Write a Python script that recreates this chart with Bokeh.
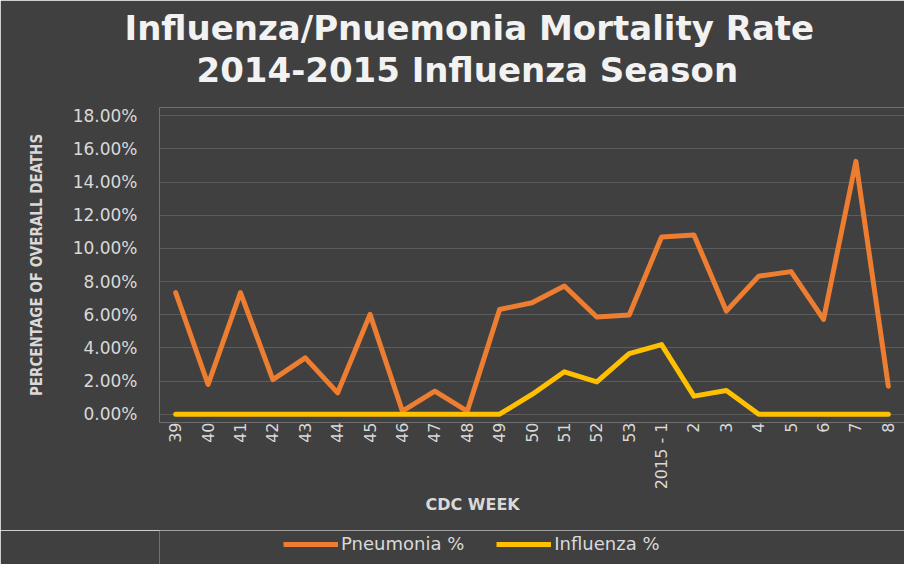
from math import pi
from bokeh.plotting import figure
from bokeh.layouts import column
from bokeh.models import (FactorRange, Range1d, FixedTicker, Title, Legend, LegendItem,
                          CustomJSTickFormatter)
from bokeh.embed import file_html
from bokeh.resources import INLINE

weeks = ["39", "40", "41", "42", "43", "44", "45", "46", "47", "48", "49", "50", "51",
         "52", "53", "2015 - 1", "2", "3", "4", "5", "6", "7", "8"]
pneumonia = [7.33, 1.79, 7.33, 2.09, 3.40, 1.29, 6.02, 0.18, 1.39, 0.18, 6.32, 6.72, 7.73,
             5.86, 5.98, 10.69, 10.81, 6.22, 8.33, 8.60, 5.72, 15.25, 1.69]
influenza = [0, 0, 0, 0, 0, 0, 0, 0, 0, 0, 0, 1.19, 2.56, 1.95, 3.65, 4.20, 1.09, 1.43,
             0, 0, 0, 0, 0]
y_ticks = [0, 2, 4, 6, 8, 10, 12, 14, 16, 18]

title_lines = ["Influenza/Pnuemonia Mortality Rate", "2014-2015 Influenza Season"]
series_names = ["Pneumonia %", "Influenza %"]

BG = "#404040"
TXT = "#d9d9d9"
C_PNEU = "#ED7D31"
C_FLU = "#FFC000"

p = figure(frame_width=745, frame_height=315, output_backend="svg", toolbar_location=None,
           x_range=FactorRange(*weeks), y_range=Range1d(-0.5, 18.5),
           min_border_left=159, min_border_right=0, min_border_top=107,
           min_border_bottom=108)
p.background_fill_color = BG
p.border_fill_color = BG
p.outline_line_color = None

p.line(weeks, pneumonia, line_color=C_PNEU, line_width=5, line_join="round",
       line_cap="round")
p.line(weeks, influenza, line_color=C_FLU, line_width=5, line_join="round",
       line_cap="round")

# axes
p.yaxis.ticker = FixedTicker(ticks=y_ticks)
p.yaxis.formatter = CustomJSTickFormatter(code="return tick.toFixed(2) + '%';")
p.yaxis.axis_line_color = None
p.yaxis.major_tick_line_color = None
p.yaxis.minor_tick_line_color = None
p.yaxis.major_tick_out = 0
p.yaxis.major_label_standoff = 22
p.yaxis.major_label_text_font = "DejaVu Sans"
p.yaxis.major_label_text_font_size = "17px"
p.yaxis.major_label_text_color = TXT
p.yaxis.axis_label = "PERCENTAGE OF OVERALL DEATHS"
p.yaxis.axis_label_text_font = "DejaVu Sans Condensed"
p.yaxis.axis_label_text_font_style = "bold"
p.yaxis.axis_label_text_font_size = "15px"
p.yaxis.axis_label_text_color = TXT
p.yaxis.axis_label_standoff = 24

p.xaxis.axis_line_color = None
p.xaxis.major_tick_line_color = None
p.xaxis.major_tick_out = 0
p.xaxis.major_label_standoff = 0
p.xaxis.major_label_orientation = pi / 2
p.xaxis.major_label_text_font = "DejaVu Sans"
p.xaxis.major_label_text_font_size = "16px"
p.xaxis.major_label_text_color = TXT

p.xgrid.grid_line_color = None
p.ygrid.grid_line_color = "#5c5c5c"
p.ygrid.grid_line_width = 1

# titles (added from the frame outward); first one is a small spacer
p.add_layout(Title(text=" ", text_font_size="2px", standoff=14), "above")
p.add_layout(Title(text=title_lines[1], align="left", offset=37,
                   text_font="DejaVu Sans", text_font_style="bold",
                   text_font_size="34px", text_color="#f2f2f2", standoff=0), "above")
p.add_layout(Title(text=title_lines[0], align="left", offset=-35,
                   text_font="DejaVu Sans", text_font_style="bold",
                   text_font_size="34px", text_color="#f2f2f2", standoff=0), "above")

p.add_layout(Title(text="CDC WEEK", align="left", offset=266,
                   text_font="DejaVu Sans", text_font_style="bold",
                   text_font_size="16px", text_color=TXT, standoff=0), "below")

# legend strip: a small figure below, its series lie outside its (hidden) y range
lg = figure(width=904, height=34, output_backend="svg", toolbar_location=None,
            x_range=FactorRange(*weeks), y_range=Range1d(100, 101),
            x_axis_type=None, y_axis_type=None,
            min_border_left=0, min_border_right=0, min_border_top=0, min_border_bottom=0)
lg.background_fill_color = BG
lg.border_fill_color = BG
lg.outline_line_color = None
lg.xgrid.grid_line_color = None
lg.ygrid.grid_line_color = None
g1 = lg.line(weeks, pneumonia, line_color=C_PNEU, line_width=5)
g2 = lg.line(weeks, influenza, line_color=C_FLU, line_width=5)

legend = Legend(items=[LegendItem(label=series_names[0], renderers=[g1]),
                       LegendItem(label=series_names[1], renderers=[g2])],
                location=(124, 10), orientation="horizontal",
                background_fill_alpha=0, border_line_color=None,
                padding=0, margin=0, spacing=32, label_standoff=3,
                glyph_width=55, glyph_height=20,
                label_text_font="DejaVu Sans", label_text_font_size="18px",
                label_text_color=TXT)
lg.add_layout(legend, "center")

layout = column(p, lg, spacing=0)

open("out.html", "w").write(file_html(layout, INLINE))
